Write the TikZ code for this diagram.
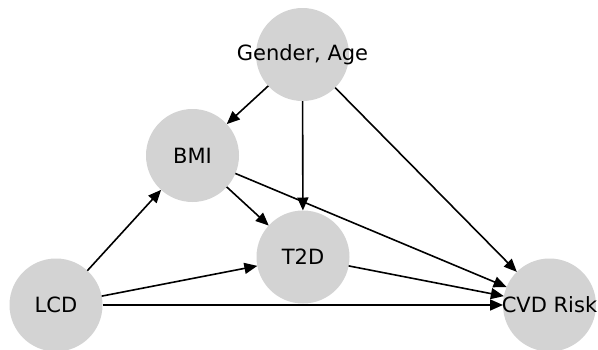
\documentclass[tikz,border=0pt]{standalone}
\usepackage{fontspec}
\setmainfont{DejaVu Sans}
\usetikzlibrary{arrows.meta}
\definecolor{nodegray}{HTML}{D3D3D3}
\tikzset{
  vnode/.style={circle, fill=nodegray, minimum size=93pt, inner sep=0pt, outer sep=0pt},
  vtext/.style={font=\fontsize{21}{25}\selectfont, inner sep=0pt},
  edge/.style={line width=1.6pt, -{Triangle[length=13pt,width=11pt]}}
}
\begin{document}
\begin{tikzpicture}[x=1pt,y=-1pt]
\useasboundingbox (0,0) rectangle (598,349);
\node[vnode, label={[vtext]center:{Gender, Age}}] (ga) at (302.5,54.5) {};
\node[vnode, label={[vtext]center:BMI}] (bmi) at (192.5,155.5) {};
\node[vnode, label={[vtext]center:T2D}] (t2d) at (303,257) {};
\node[vnode, label={[vtext]center:LCD}] (lcd) at (56,305) {};
\node[vnode, label={[vtext]center:{CVD Risk}}] (cvd) at (549.5,305) {};
\draw[edge] (ga) -- (bmi);
\draw[edge] (ga) -- (t2d);
\draw[edge] (ga) -- (cvd);
\draw[edge] (bmi) -- (t2d);
\draw[edge] (bmi) -- (cvd);
\draw[edge] (lcd) -- (bmi);
\draw[edge] (lcd) -- (t2d);
\draw[edge] (lcd) -- (cvd);
\draw[edge] (t2d) -- (cvd);
\end{tikzpicture}
\end{document}
